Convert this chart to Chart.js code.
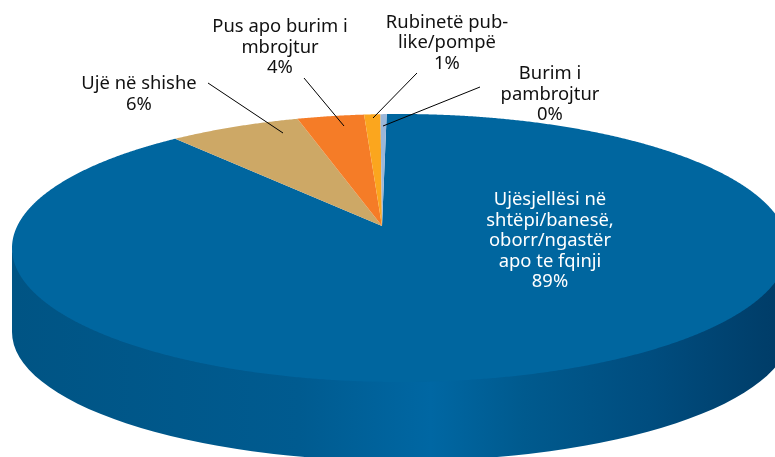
<!DOCTYPE html>
<html><head><meta charset="utf-8">
<style>html,body{margin:0;padding:0;background:#fff;overflow:hidden}canvas{display:block}</style>
<script src="https://cdn.jsdelivr.net/npm/chart.js@4"></script>
</head><body><canvas id="c" width="775" height="457"></canvas>
<script>
const categories = ["Ujësjellësi në shtëpi/banesë, oborr/ngastër apo te fqinji","Ujë në shishe","Pus apo burim i mbrojtur","Rubinetë publike/pompë","Burim i pambrojtur"];
const shares = [89.0, 6.6, 3.3, 0.8, 0.3];
const percentLabels = ["89%","6%","4%","1%","0%"];
const wrappedNames = [
  ["Ujësjellësi në","shtëpi/banesë,","oborr/ngastër","apo te fqinji"],
  ["Ujë në shishe"],
  ["Pus apo burim i","mbrojtur"],
  ["Rubinetë pub-","like/pompë"],
  ["Burim i","pambrojtur"]
];
const sliceColors = ["#00669F","#CDA866","#F57C27","#FBA61E","#9BB7D9"];

// layout (pixels) of the 3D disc and labels
const rim = {x:400,y:248,rx:388,ry:134};
const floor = {x:401,y:332,rx:389,ry:129};
const apex = {x:382,y:226};
const labelAt = [[550,200],[139,84],[280,27],[447,22.5],[550,74]];
const leaders = [null,[[208,83],[283,133]],[[304,78],[344,126]],[[417,73],[373,118]],[[480,87],[383,126]]];
const lineH = 20.5;
const FONT = '18.4px "Noto Sans"';

function project(theta){
  // projective map of the unit disc that sends its centre to the apex, then onto the rim ellipse
  const px=(apex.x-rim.x)/rim.rx, py=(apex.y-rim.y)/rim.ry;
  const m=Math.hypot(px,py), hx=px/m, hy=py/m;
  const qx=Math.cos(theta), qy=Math.sin(theta);
  const along=qx*hx+qy*hy, ox=qx-along*hx, oy=qy-along*hy;
  const s=Math.sqrt(1-m*m), d=1+px*qx+py*qy;
  const nx=(px+along*hx+s*ox)/d, ny=(py+along*hy+s*oy)/d;
  return [rim.x+nx*rim.rx, rim.y+ny*rim.ry];
}

const disc3d = {
  id:'disc3d',
  beforeDatasetDraw(chart,args){
    const ctx=chart.ctx, meta=chart.getDatasetMeta(args.index);
    ctx.save();
    const g=ctx.createLinearGradient(rim.x-rim.rx,0,rim.x+rim.rx,0);
    [[0,'#005484'],[0.37,'#005B90'],[0.54,'#0067A3'],[0.66,'#005A8E'],[0.82,'#004D7F'],[0.97,'#003E6A'],[1,'#003C68']]
      .forEach(s=>g.addColorStop(s[0],s[1]));
    ctx.beginPath();
    ctx.moveTo(rim.x-rim.rx,rim.y+2);
    ctx.lineTo(floor.x-floor.rx,floor.y);
    ctx.ellipse(floor.x,floor.y,floor.rx,floor.ry,0,Math.PI,0,true);
    ctx.lineTo(rim.x+rim.rx,rim.y+2);
    ctx.ellipse(rim.x,rim.y+2-6,rim.rx,rim.ry,0,0,Math.PI,false);
    ctx.closePath();
    ctx.fillStyle=g; ctx.fill();
    meta.data.forEach((arc,i)=>{
      const a0=arc.startAngle,a1=arc.endAngle,n=Math.max(2,Math.ceil((a1-a0)/0.005));
      ctx.beginPath(); ctx.moveTo(apex.x,apex.y);
      for(let k=0;k<=n;k++){const p=project(a0+(a1-a0)*k/n); ctx.lineTo(p[0],p[1]);}
      ctx.closePath();
      ctx.fillStyle=sliceColors[i]; ctx.fill();
    });
    ctx.restore();
    return false;
  },
  afterDraw(chart){
    const ctx=chart.ctx; ctx.save();
    ctx.strokeStyle='#000'; ctx.lineWidth=1;
    leaders.forEach(l=>{ if(!l) return; ctx.beginPath(); ctx.moveTo(l[0][0],l[0][1]); ctx.lineTo(l[1][0],l[1][1]); ctx.stroke(); });
    ctx.font=FONT; ctx.textAlign='center'; ctx.textBaseline='middle';
    wrappedNames.forEach((names,i)=>{
      ctx.fillStyle=i===0?'#FFFFFF':'#111111';
      names.concat(percentLabels[i]).forEach((t,j)=>ctx.fillText(t,labelAt[i][0],labelAt[i][1]+j*lineH));
    });
    ctx.restore();
  }
};

new Chart(document.getElementById('c'),{
  type:'pie',
  data:{labels:categories,datasets:[{data:shares,backgroundColor:sliceColors,borderWidth:0}]},
  options:{responsive:false,animation:false,rotation:0.6,
    plugins:{legend:{display:false},title:{display:false},tooltip:{enabled:false}}},
  plugins:[disc3d]
});
</script></body></html>
